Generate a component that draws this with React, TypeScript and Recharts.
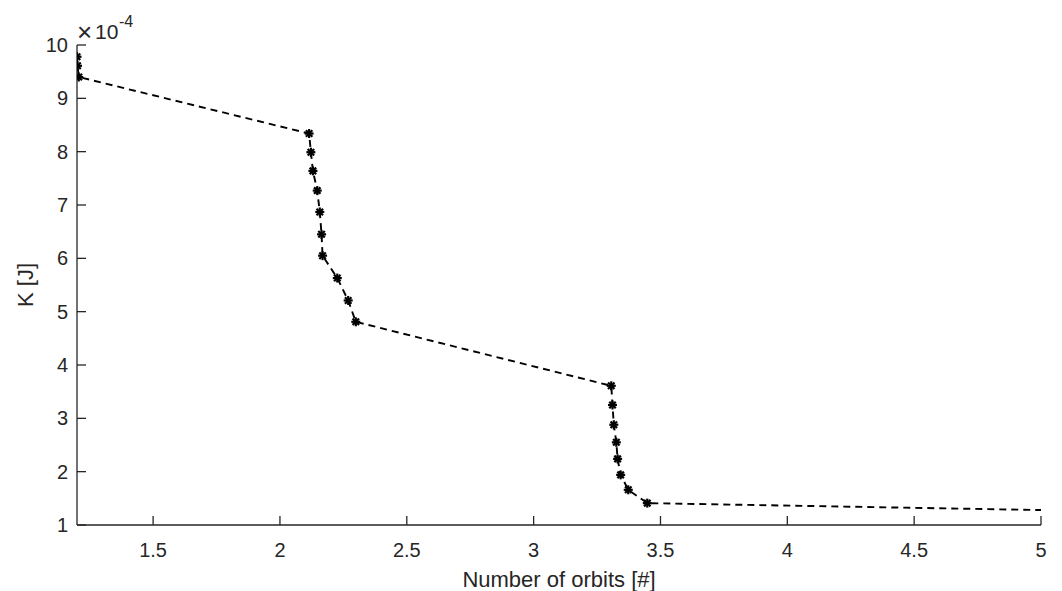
import React from 'react';
import { LineChart, Line, XAxis, YAxis } from 'recharts';

// number of orbits vs kinetic energy (values in units of 1e-4 J)
const orbits = [1.2, 1.202, 1.207, 2.115, 2.122, 2.13, 2.147, 2.157, 2.164, 2.168, 2.226, 2.269, 2.299, 3.306, 3.311, 3.316, 3.326, 3.331, 3.343, 3.373, 3.448, 5.0];
const energy = [9.78, 9.61, 9.4, 8.34, 7.99, 7.64, 7.27, 6.87, 6.45, 6.05, 5.63, 5.21, 4.81, 3.61, 3.25, 2.88, 2.55, 2.24, 1.94, 1.66, 1.41, 1.28];
const xTicks = [1.5, 2, 2.5, 3, 3.5, 4, 4.5, 5];
const yTicks = [1, 2, 3, 4, 5, 6, 7, 8, 9, 10];

const data = orbits.map((x, i) => ({ x, k: energy[i] }));

const AXIS = '#262626';
const FONT = '"Liberation Sans", Arial, sans-serif';

const Star = (props: any) => {
  const { cx, cy, index } = props;
  if (index === data.length - 1 || cx == null) return <g key={index} />;
  const r = 4.5;
  const d = r * 0.72;
  return (
    <g key={index} stroke="#000" strokeWidth={2.2}>
      <line x1={cx - r} y1={cy} x2={cx + r} y2={cy} />
      <line x1={cx} y1={cy - r} x2={cx} y2={cy + r} />
      <line x1={cx - d} y1={cy - d} x2={cx + d} y2={cy + d} />
      <line x1={cx - d} y1={cy + d} x2={cx + d} y2={cy - d} />
    </g>
  );
};

const XTick = (props: any) => {
  const { x, y, payload } = props;
  return (
    <g>
      <line x1={x} y1={y} x2={x} y2={y - 9} stroke={AXIS} strokeWidth={1.3} />
      <text x={x} y={y + 32} textAnchor="middle" fontSize={20} fill={AXIS} fontFamily={FONT}>
        {payload.value}
      </text>
    </g>
  );
};

const YTick = (props: any) => {
  const { x, y, payload } = props;
  return (
    <g>
      <line x1={x} y1={y} x2={x + 9} y2={y} stroke={AXIS} strokeWidth={1.3} />
      <text x={x - 9} y={y + 7} textAnchor="end" fontSize={20} fill={AXIS} fontFamily={FONT}>
        {payload.value}
      </text>
      {payload.value === 10 && (
        <g fill={AXIS} fontFamily={FONT}>
          <text x={x} y={y - 4} fontSize={26}>×</text>
          <text x={x + 18} y={y - 6} fontSize={21}>10</text>
          <text x={x + 42} y={y - 18} fontSize={16}>-4</text>
        </g>
      )}
    </g>
  );
};

export default function App() {
  return (
    <div style={{ position: 'absolute', left: 0, top: 0, width: 1062, height: 591, background: '#fff' }}>
      <LineChart width={1062} height={591} data={data} margin={{ top: 45, right: 21, bottom: 36, left: 17 }}>
        <XAxis
          dataKey="x"
          type="number"
          domain={[1.2, 5]}
          ticks={xTicks}
          allowDataOverflow
          height={30}
          tickSize={0}
          tickMargin={0}
          tickLine={false}
          axisLine={{ stroke: AXIS, strokeWidth: 1.3 }}
          tick={<XTick />}
          label={{
            content: (p: any) => {
              const vb = p.viewBox;
              return (
                <text x={vb.x + vb.width / 2} y={vb.y + 62} textAnchor="middle" fontSize={22} fill={AXIS} fontFamily={FONT}>
                  Number of orbits [#]
                </text>
              );
            },
          }}
        />
        <YAxis
          type="number"
          domain={[1, 10]}
          ticks={yTicks}
          allowDataOverflow
          width={60}
          tickSize={0}
          tickMargin={0}
          tickLine={false}
          axisLine={{ stroke: AXIS, strokeWidth: 1.3 }}
          tick={<YTick />}
          label={{
            content: (p: any) => {
              const vb = p.viewBox;
              const cy = vb.y + vb.height / 2;
              return (
                <text x={33} y={cy} textAnchor="middle" fontSize={22} fill={AXIS} fontFamily={FONT} transform={`rotate(-90, 33, ${cy})`}>
                  K [J]
                </text>
              );
            },
          }}
        />
        <Line
          type="linear"
          dataKey="k"
          stroke="#000"
          strokeWidth={1.9}
          strokeDasharray="7 5"
          dot={<Star />}
          activeDot={false}
          isAnimationActive={false}
        />
      </LineChart>
    </div>
  );
}
